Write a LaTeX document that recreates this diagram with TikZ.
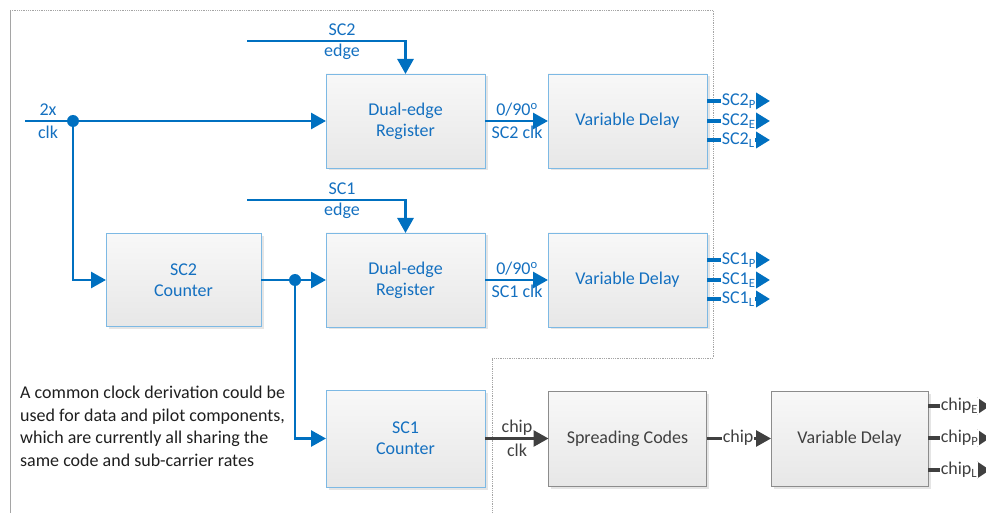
\documentclass[tikz,border=0pt]{standalone}
\usepackage{fontspec}
\setmainfont{Carlito}
\usetikzlibrary{arrows.meta,shadows}
\definecolor{vblue}{RGB}{0,112,192}
\definecolor{vtext}{RGB}{20,112,192}
\definecolor{bborder}{RGB}{125,185,228}
\definecolor{gborder}{RGB}{140,140,140}
\definecolor{dgray}{RGB}{64,64,64}
\definecolor{framec}{RGB}{165,165,165}
\definecolor{boxtop}{RGB}{248,248,248}
\definecolor{boxbot}{RGB}{231,231,231}
\begin{document}
\begin{tikzpicture}[x=1pt,y=-1pt,font=\fontsize{18}{21}\selectfont,
  boxbase/.style={rectangle,inner sep=0pt,outer sep=0pt,line width=0.8pt,
    top color=boxtop,bottom color=boxbot,align=center,
    drop shadow={shadow xshift=2.5pt,shadow yshift=-2.5pt,fill=black,opacity=0.10}},
  bbox/.style={boxbase,draw=bborder,text=vtext},
  gbox/.style={boxbase,draw=gborder,text=dgray},
  bline/.style={draw=vblue,line width=2.8pt,-{Triangle[length=15pt,width=16pt]}},
  gline/.style={draw=dgray,line width=2.8pt,-{Triangle[length=15pt,width=16pt]}},
  bstub/.style={draw=vblue,line width=3.5pt,-{Triangle[length=14pt,width=16pt]}},
  gstub/.style={draw=dgray,line width=3.5pt,-{Triangle[length=13pt,width=16pt]}},
  blab/.style={text=vtext,inner sep=0pt},
  glab/.style={text=dgray,inner sep=0pt},
  olab/.style={fill=white,inner sep=0.6pt,anchor=west},
  junc/.style={circle,fill=vblue,inner sep=0pt,minimum size=12pt}]
\useasboundingbox (0,0) rectangle (986,513);
% frame
\draw[framec,line width=0.8pt] (10,10) -- (10,513);
\draw[framec,line width=0.8pt,densely dotted] (10,10) -- (713,10) -- (713,358) -- (492,358) -- (492,513);

% boxes
\node[bbox,minimum width=159pt,minimum height=94pt] (reg2) at (405.5,121) {Dual-edge\\Register};
\node[bbox,minimum width=159pt,minimum height=94pt] (vd2) at (627.5,121) {Variable Delay};
\node[bbox,minimum width=155pt,minimum height=93pt] (cnt2) at (183.5,280) {SC2\\Counter};
\node[bbox,minimum width=159pt,minimum height=94pt] (reg1) at (405.5,280) {Dual-edge\\Register};
\node[bbox,minimum width=159pt,minimum height=94pt] (vd1) at (627.5,280) {Variable Delay};
\node[bbox,minimum width=159pt,minimum height=97pt] (cnt1) at (405.5,438.5) {SC1\\Counter};
\node[gbox,minimum width=158pt,minimum height=95pt] (spread) at (627.5,438.5) {Spreading Codes};
\node[gbox,minimum width=157pt,minimum height=95pt] (vd3) at (849.5,438.5) {Variable Delay};

% clock input
\coordinate (clkin) at (25,121);
\coordinate (j1) at (73,121);
\draw[bline] (clkin) -- (reg2.west);
\draw[bline] (j1) |- (cnt2.west);
\node[junc] at (j1) {};
\node[blab] at (48,110) {2x};
\node[blab] at (48,132) {clk};

% edges
\coordinate (e2) at (247,41);
\draw[bline] (e2) -| (reg2.north);
\node[blab] at (342,30) {SC2};
\node[blab] at (342,52) {edge};
\coordinate (e1) at (247,200);
\draw[bline] (e1) -| (reg1.north);
\node[blab] at (342,189) {SC1};
\node[blab] at (342,211) {edge};

% counter chain
\coordinate (j2) at (295,280);
\draw[bline] (cnt2.east) -- (reg1.west);
\draw[bline] (j2) |- (cnt1.west);
\node[junc] at (j2) {};

% register -> delay
\draw[bline] (reg2.east) -- (vd2.west);
\node[blab] at (517,110) {0/90\textsuperscript{o}};
\node[blab] at (517,132) {SC2 clk};
\draw[bline] (reg1.east) -- (vd1.west);
\node[blab] at (517,269) {0/90\textsuperscript{o}};
\node[blab] at (517,291) {SC1 clk};

% chip clk
\draw[gline] (cnt1.east) -- (spread.west);
\node[glab] at (517,428) {chip};
\node[glab] at (517,450) {clk};
\draw[gline] (spread.east) -- (vd3.west);
\node[glab,olab] at (722,438) {chip};

% SC outputs
\foreach \yy/\s [count=\i] in {101/P,121/E,140/L}{
  \coordinate (oa\i) at (770,\yy);
  \draw[bstub] (vd2.east |- oa\i) -- (oa\i);
  \node[blab,olab] at (721,\yy) {SC2\textsubscript{\s}};
}
\foreach \yy/\s [count=\i] in {260/P,280/E,299/L}{
  \coordinate (ob\i) at (770,\yy);
  \draw[bstub] (vd1.east |- ob\i) -- (ob\i);
  \node[blab,olab] at (721,\yy) {SC1\textsubscript{\s}};
}
\foreach \yy/\s [count=\i] in {406/E,438/P,470/L}{
  \coordinate (oc\i) at (990,\yy);
  \draw[gstub] (vd3.east |- oc\i) -- (oc\i);
  \node[glab,olab] at (940,\yy) {chip\textsubscript{\s}};
}

% note
\node[anchor=north west,align=left,inner sep=0pt,text=black!88,font=\fontsize{18}{22.5}\selectfont] (note) at (20,386)
  {A common clock derivation could be\\used for data and pilot components,\\which are currently all sharing the\\same code and sub-carrier rates};
\end{tikzpicture}
\end{document}
